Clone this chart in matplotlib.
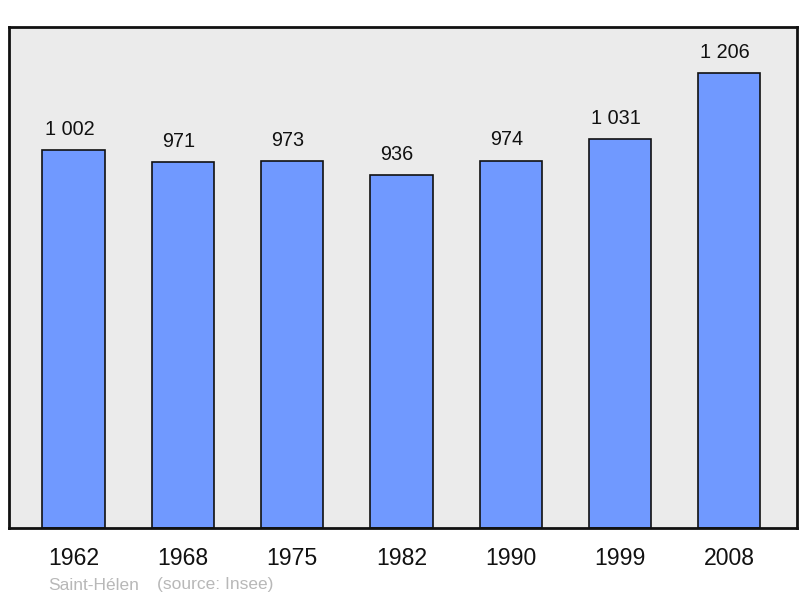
import matplotlib
matplotlib.use("Agg")
import matplotlib.pyplot as plt

years = ["1962", "1968", "1975", "1982", "1990", "1999", "2008"]
population = [1002, 971, 973, 936, 974, 1031, 1206]
value_labels = ["1 002", "971", "973", "936", "974", "1 031", "1 206"]
footer_place = "Saint-Hélen"
footer_source = "(source: Insee)"

plt.rcParams['font.family'] = ['Liberation Sans', 'DejaVu Sans']

fig = plt.figure(figsize=(8, 5.98), dpi=100)
ax = fig.add_axes([9/800, 1 - 528/598, 788/800, 501/598])
ax.set_facecolor("#ebebeb")
x = list(range(len(years)))
ax.bar(x, population, width=0.57, color="#7099ff", edgecolor="#111111", linewidth=1.2, zorder=2)
for xi, v, lab in zip(x, population, value_labels):
    ax.annotate(lab, (xi, v), xytext=(-3, 8), textcoords="offset points",
                ha="center", va="bottom", fontsize=14.3, color="#111111")
ax.set_xlim(-0.59, 6.62)
ax.set_ylim(0, 1328)
ax.set_yticks([])
ax.set_xticks(x)
ax.set_xticklabels(years, fontsize=16.6, color="#111111")
ax.tick_params(axis="x", length=0, pad=14)
for s in ax.spines.values():
    s.set_linewidth(2)
    s.set_color("#111111")
fig.text(48/800, 1 - 585/598, footer_place, fontsize=12.5, color="#b8b8b8", va="center", ha="left")
fig.text(157/800, 1 - 585/598, footer_source, fontsize=12.5, color="#b8b8b8", va="center", ha="left")
fig.savefig("out.png", dpi=100)
